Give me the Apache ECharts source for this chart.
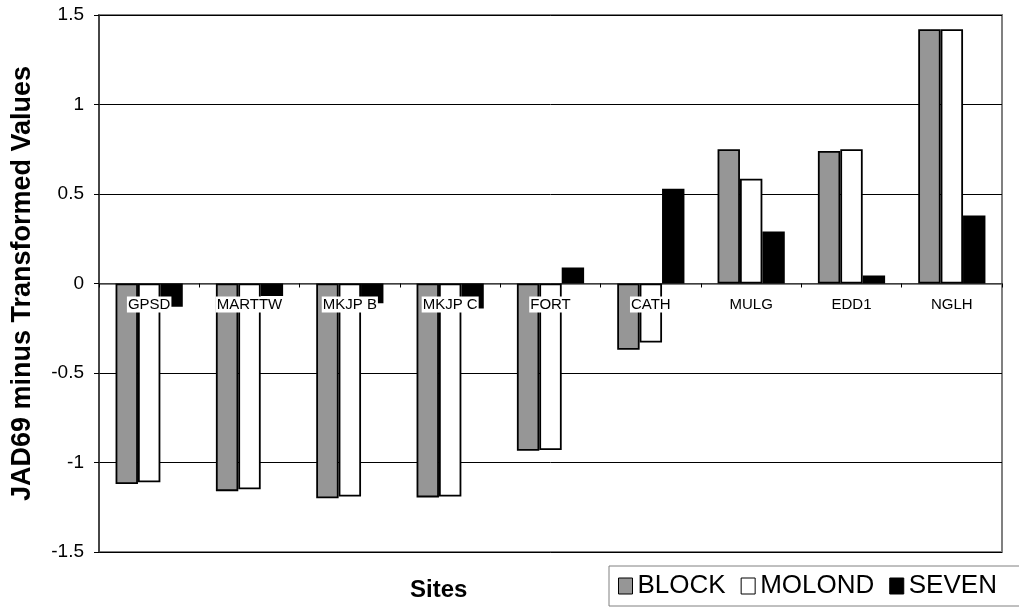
<!DOCTYPE html>
<html>
<head>
<meta charset="utf-8">
<script src="https://cdn.jsdelivr.net/npm/echarts@6/dist/echarts.min.js"></script>
<style>
html, body { margin: 0; padding: 0; background: #fff; }
#main { width: 1019px; height: 607px; }
</style>
</head>
<body>
<div id="main"></div>
<script>
var sites = ['GPSD', 'MARTTW', 'MKJP B', 'MKJP C', 'FORT', 'CATH', 'MULG', 'EDD1', 'NGLH'];
var block = [-1.12, -1.16, -1.20, -1.195, -0.935, -0.37, 0.75, 0.74, 1.42];
var molond = [-1.11, -1.15, -1.19, -1.19, -0.93, -0.33, 0.585, 0.75, 1.42];
var seven = [-0.13, -0.07, -0.11, -0.14, 0.09, 0.53, 0.29, 0.045, 0.38];
var zeroLine = [0, 0, 0, 0, 0, 0, 0, 0, 0];

var myChart = echarts.init(document.getElementById('main'));
var font = 'Liberation Sans, Arial, sans-serif';

// 柱子的公共样式
function barSeries(name, data, color) {
    return {
        name: name,
        type: 'bar',
        data: data,
        barGap: '0%',
        barCategoryGap: '33%',
        itemStyle: {
            color: color,
            borderColor: '#000',
            borderWidth: 1.8
        }
    };
}

var option = {
    backgroundColor: '#fff',
    animation: false,
    textStyle: { fontFamily: font },
    title: {
        text: 'Sites',
        left: 405,
        top: 573,
        textStyle: { fontFamily: font, fontSize: 24, fontWeight: 'bold', color: '#000' }
    },
    legend: {
        left: 609,
        top: 566,
        width: 700,
        data: ['BLOCK', 'MOLOND', 'SEVEN'],
        icon: 'rect',
        itemWidth: 14,
        itemHeight: 16,
        itemGap: 15,
        padding: [7, 40, 7, 9],
        borderColor: '#808080',
        borderWidth: 1,
        itemStyle: { borderColor: '#000', borderWidth: 1 },
        textStyle: { fontFamily: font, fontSize: 26, color: '#000' }
    },
    grid: {
        left: 99,
        right: 17,
        top: 15,
        bottom: 55,
        show: true,
        borderColor: '#808080',
        borderWidth: 2,
        containLabel: false
    },
    xAxis: {
        type: 'category',
        data: sites,
        axisLine: { onZero: true, lineStyle: { color: '#555', width: 1.5 } },
        axisTick: { show: true, length: 4, lineStyle: { color: '#000' } },
        axisLabel: { show: false }
    },
    yAxis: {
        type: 'value',
        min: -1.5,
        max: 1.5,
        interval: 0.5,
        name: 'JAD69 minus Transformed Values',
        nameLocation: 'middle',
        nameGap: 63,
        nameRotate: 90,
        nameTextStyle: { fontFamily: font, fontSize: 27, fontWeight: 'bold', color: '#000' },
        axisLine: { show: true, lineStyle: { color: '#333', width: 1.5 } },
        axisTick: { show: true, length: 5, lineStyle: { color: '#000' } },
        axisLabel: { fontFamily: font, fontSize: 19, color: '#000', margin: 15 },
        splitLine: { show: true, lineStyle: { color: '#000', width: 1 } }
    },
    series: [
        barSeries('BLOCK', block, '#969696'),
        barSeries('MOLOND', molond, '#ffffff'),
        barSeries('SEVEN', seven, '#000000'),
        {
            // 类目标签贴在0线下方
            name: 'labels',
            type: 'scatter',
            data: zeroLine,
            symbolSize: 0,
            z: 10,
            silent: true,
            itemStyle: { opacity: 1 },
            label: {
                show: true,
                position: 'bottom',
                distance: 13,
                formatter: '{b}',
                fontFamily: font,
                fontSize: 15,
                color: '#000',
                opacity: 1,
                backgroundColor: '#fff',
                padding: [1, 1, 0, 1]
            }
        }
    ]
};
myChart.setOption(option);
</script>
</body>
</html>
